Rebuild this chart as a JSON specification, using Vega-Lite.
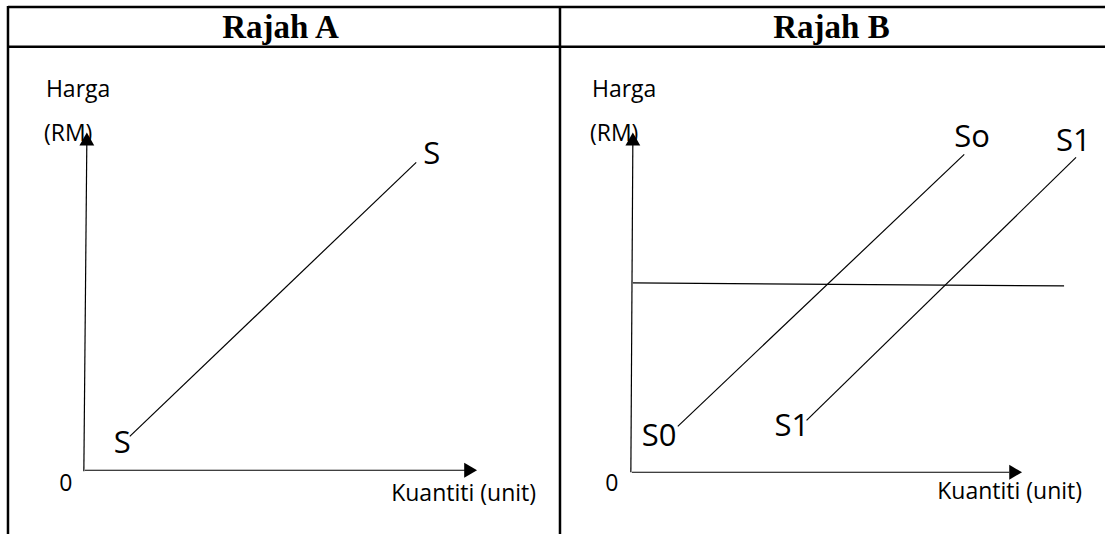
{
  "$schema": "https://vega.github.io/schema/vega-lite/v6.json",
  "width": 1107,
  "height": 536,
  "autosize": {"type": "fit", "contains": "padding"},
  "padding": 0,
  "background": "white",
  "config": {"view": {"stroke": null}},
  "datasets": {
    "lines": [
      {"kind": "table", "x": 8, "y": 7, "x2": 1107, "y2": 7},
      {"kind": "table", "x": 8, "y": 47, "x2": 1107, "y2": 47},
      {"kind": "table", "x": 8, "y": 6, "x2": 8, "y2": 536},
      {"kind": "table", "x": 561, "y": 6, "x2": 561, "y2": 536},
      {"kind": "axis", "x": 84, "y": 473, "x2": 87, "y2": 140},
      {"kind": "axis", "x": 85, "y": 472, "x2": 466, "y2": 472},
      {"kind": "curve", "x": 130, "y": 438, "x2": 417, "y2": 163},
      {"kind": "axis", "x": 632, "y": 474, "x2": 634, "y2": 140},
      {"kind": "axis", "x": 633, "y": 474, "x2": 1011, "y2": 474},
      {"kind": "curve", "x": 634, "y": 284, "x2": 1066, "y2": 287},
      {"kind": "curve", "x": 679, "y": 428, "x2": 966, "y2": 155},
      {"kind": "curve", "x": 808, "y": 422, "x2": 1078, "y2": 158}
    ],
    "arrows": [
      {"dir": "up", "x": 87, "y": 133},
      {"dir": "right", "x": 478, "y": 472},
      {"dir": "up", "x": 634, "y": 133},
      {"dir": "right", "x": 1024, "y": 474}
    ],
    "labels": [
      {"role": "header", "text": "Rajah A", "x": 281, "y": 38},
      {"role": "header", "text": "Rajah B", "x": 833, "y": 38},
      {"role": "axisL", "text": "Harga", "x": 46, "y": 97},
      {"role": "axisL", "text": "(RM)", "x": 44, "y": 142},
      {"role": "axisC", "text": "0", "x": 66, "y": 493},
      {"role": "axisR", "text": "Kuantiti (unit)", "x": 537, "y": 503},
      {"role": "axisL", "text": "Harga", "x": 593, "y": 97},
      {"role": "axisL", "text": "(RM)", "x": 591, "y": 142},
      {"role": "axisC", "text": "0", "x": 613, "y": 493},
      {"role": "axisR", "text": "Kuantiti (unit)", "x": 1084, "y": 501},
      {"role": "curve", "text": "S", "x": 424, "y": 165},
      {"role": "curve", "text": "S", "x": 114, "y": 455},
      {"role": "curve", "text": "So", "x": 956, "y": 148},
      {"role": "curve", "text": "S1", "x": 1058, "y": 152},
      {"role": "curve", "text": "S0", "x": 643, "y": 448},
      {"role": "curve", "text": "S1", "x": 776, "y": 438}
    ]
  },
  "encoding": {
    "x": {"field": "x", "type": "quantitative", "scale": {"domain": [0, 1107], "nice": false, "zero": false}, "axis": null},
    "y": {"field": "y", "type": "quantitative", "scale": {"domain": [0, 536], "reverse": true, "nice": false, "zero": false}, "axis": null}
  },
  "layer": [
    {
      "data": {"name": "lines"},
      "transform": [{"filter": "datum.kind === 'table'"}],
      "mark": {"type": "rule", "color": "black", "strokeWidth": 2.5},
      "encoding": {"x2": {"field": "x2"}, "y2": {"field": "y2"}}
    },
    {
      "data": {"name": "lines"},
      "transform": [{"filter": "datum.kind !== 'table'"}],
      "mark": {"type": "rule", "color": "black", "strokeWidth": 1.2},
      "encoding": {"x2": {"field": "x2"}, "y2": {"field": "y2"}}
    },
    {
      "data": {"name": "arrows"},
      "transform": [{"filter": "datum.dir === 'up'"}],
      "mark": {"type": "point", "shape": "triangle-up", "filled": true, "color": "black", "opacity": 1, "size": 220, "yOffset": 6.5}
    },
    {
      "data": {"name": "arrows"},
      "transform": [{"filter": "datum.dir === 'right'"}],
      "mark": {"type": "point", "shape": "triangle-right", "filled": true, "color": "black", "opacity": 1, "size": 220, "xOffset": -6.5}
    },
    {
      "data": {"name": "labels"},
      "transform": [{"filter": "datum.role === 'header'"}],
      "mark": {"type": "text", "font": "Liberation Serif", "fontWeight": "bold", "fontSize": 33, "align": "center", "baseline": "alphabetic", "color": "black"},
      "encoding": {"text": {"field": "text"}}
    },
    {
      "data": {"name": "labels"},
      "transform": [{"filter": "datum.role === 'axisL'"}],
      "mark": {"type": "text", "font": "Open Sans", "fontSize": 23, "align": "left", "baseline": "alphabetic", "color": "black"},
      "encoding": {"text": {"field": "text"}}
    },
    {
      "data": {"name": "labels"},
      "transform": [{"filter": "datum.role === 'axisC'"}],
      "mark": {"type": "text", "font": "Open Sans", "fontSize": 23, "align": "center", "baseline": "alphabetic", "color": "black"},
      "encoding": {"text": {"field": "text"}}
    },
    {
      "data": {"name": "labels"},
      "transform": [{"filter": "datum.role === 'axisR'"}],
      "mark": {"type": "text", "font": "Open Sans", "fontSize": 23, "align": "right", "baseline": "alphabetic", "color": "black"},
      "encoding": {"text": {"field": "text"}}
    },
    {
      "data": {"name": "labels"},
      "transform": [{"filter": "datum.role === 'curve'"}],
      "mark": {"type": "text", "font": "Open Sans", "fontSize": 31, "align": "left", "baseline": "alphabetic", "color": "black"},
      "encoding": {"text": {"field": "text"}}
    }
  ]
}
